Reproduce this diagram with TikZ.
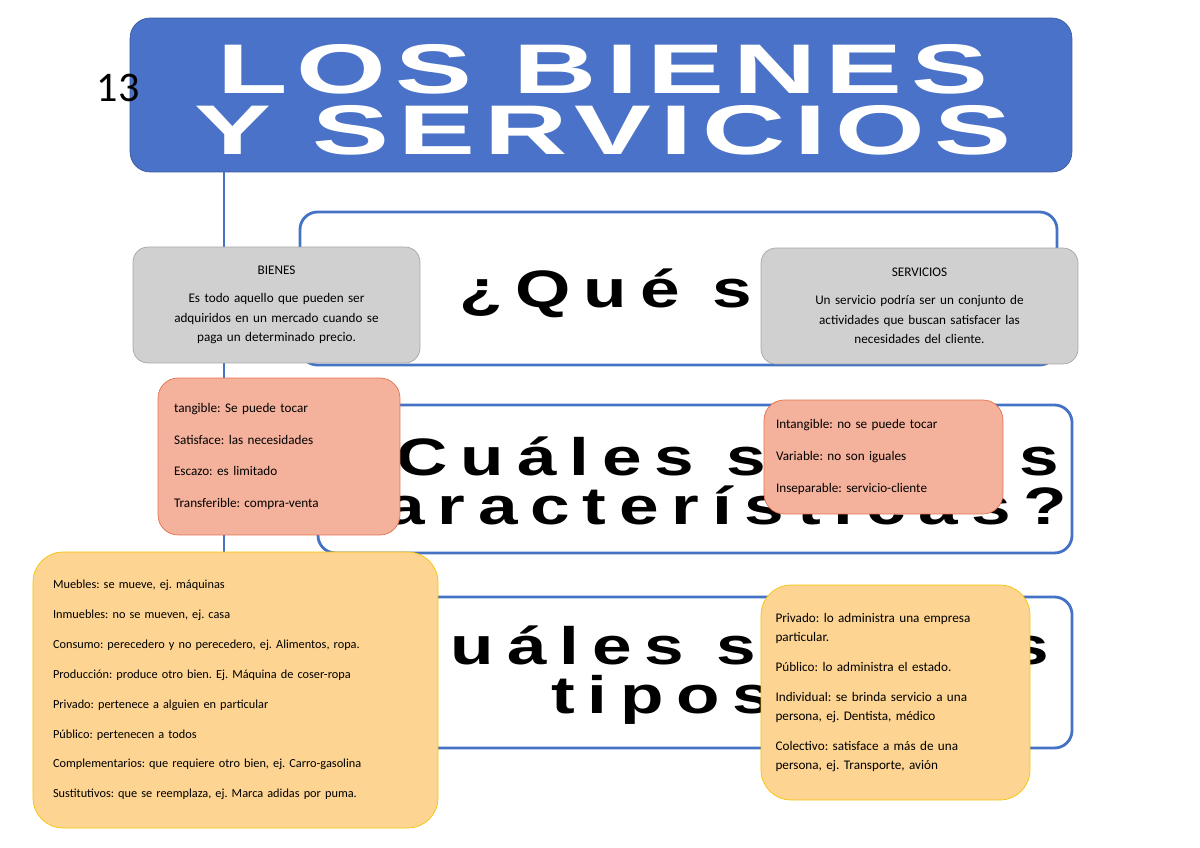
\documentclass[tikz,border=0pt]{standalone}
\usepackage{fontspec}
\setmainfont{Carlito}
\newfontfamily\wide[LetterSpace=18]{Liberation Sans Bold}
\newfontfamily\widetitle[LetterSpace=8]{Liberation Sans Bold}
\usetikzlibrary{positioning}
\frenchspacing
\definecolor{titleblue}{HTML}{4A72C8}
\definecolor{panelblue}{HTML}{4472C4}
\definecolor{grayfill}{HTML}{D0D0D0}
\definecolor{grayline}{HTML}{A6A6A6}
\definecolor{salmonfill}{HTML}{F4B19B}
\definecolor{salmonline}{HTML}{E4704E}
\definecolor{orangefill}{HTML}{FDD492}
\definecolor{orangeline}{HTML}{F5C400}
\tikzset{
  panel/.style={draw=panelblue, line width=1.6pt, fill=white, rounded corners=0.35cm},
  graybox/.style={draw=grayline, fill=grayfill, rounded corners=0.3cm, align=center,
    font=\fontsize{7.5}{11}\selectfont, inner sep=0pt},
  salmonbox/.style={draw=salmonline, fill=salmonfill, rounded corners=0.4cm, align=left,
    font=\fontsize{7.5}{18}\selectfont, inner sep=0pt},
  orangebox/.style={draw=orangeline, fill=orangefill, rounded corners=0.6cm, align=left,
    font=\fontsize{7}{17}\selectfont, inner sep=0pt},
  bigtext/.style={font=\wide\fontsize{30}{22}\selectfont, align=center, inner sep=0pt}
}
\begin{document}
\begin{tikzpicture}[x=0.02cm, y=-0.02cm]
\useasboundingbox (0,0) rectangle (1200,848);
% title
\node[draw=titleblue!80!black, fill=titleblue, rounded corners=0.4cm,
  minimum width=18.84cm, minimum height=3.08cm, inner sep=0pt] (title) at (601,95) {};
\node[white, font=\widetitle\fontsize{40}{33}\selectfont, align=center] (titletext) at (603,100)
  {\scalebox{1.64}[1]{LOS BIENES}\\[2pt]\scalebox{1.64}[1]{Y SERVICIOS}};
\node[font=\fontsize{24}{24}\selectfont] (num) at (118,88) {13};
% spine
\coordinate (spineend) at (224,555);
\draw[panelblue, line width=1.6pt] (224,172) -- (spineend);
% panels
\draw[panel] (300,212) rectangle (1057,365);
\draw[panel] (318,405) rectangle (1072,553);
\draw[panel] (318,597) rectangle (1072,748);
\node[bigtext] (q1) at (690,293) {\scalebox{1.35}[1]{¿Qué son?}};
\node[bigtext] (q2) at (700,481) {\scalebox{1.35}[1]{¿Cuáles son sus}\\\scalebox{1.35}[1]{características?}};
\node[bigtext] (q3) at (690,675) {\scalebox{1.35}[1]{¿Cuáles son sus}\\\scalebox{1.35}[1]{tipos?}};
% boxes
\node[graybox, minimum width=5.74cm, minimum height=2.32cm, text width=5.4cm] (bienes) at (276.5,305)
  {BIENES\\[5pt]Es todo aquello que pueden ser\\adquiridos en un mercado cuando se\\paga un determinado precio.};
\node[graybox, minimum width=6.34cm, minimum height=2.32cm, text width=6cm] (servicios) at (919.5,306)
  {SERVICIOS\\[5pt]Un servicio podría ser un conjunto de\\actividades que buscan satisfacer las\\necesidades del cliente.};
\node[salmonbox, minimum width=4.84cm, minimum height=3.14cm, text width=4.2cm] (btipo) at (279,456.5)
  {tangible: Se puede tocar\\Satisface: las necesidades\\Escazo: es limitado\\Transferible: compra-venta};
\node[salmonbox, minimum width=4.78cm, minimum height=2.28cm, text width=4.3cm] (stipo) at (883.5,457)
  {Intangible: no se puede tocar\\Variable: no son iguales\\Inseparable: servicio-cliente};
\node[orangebox, minimum width=8.1cm, minimum height=5.52cm, text width=7.3cm] (bclases) at (235.5,690)
  {Muebles: se mueve, ej. máquinas\\
   Inmuebles: no se mueven, ej. casa\\
   Consumo: perecedero y no perecedero, ej. Alimentos, ropa.\\
   Producción: produce otro bien. Ej. Máquina de coser-ropa\\
   Privado: pertenece a alguien en particular\\
   Público: pertenecen a todos\\
   Complementarios: que requiere otro bien, ej. Carro-gasolina\\
   Sustitutivos: que se reemplaza, ej. Marca adidas por puma.};
\node[orangebox, font=\fontsize{7.5}{11}\selectfont, minimum width=5.38cm, minimum height=4.3cm, text width=4.8cm] (sclases) at (895.5,692.5)
  {Privado: lo administra una empresa\\particular.\\[6pt]
   Público: lo administra el estado.\\[6pt]
   Individual: se brinda servicio a una\\persona, ej. Dentista, médico\\[6pt]
   Colectivo: satisface a más de una\\persona, ej. Transporte, avión};
\end{tikzpicture}
\end{document}
